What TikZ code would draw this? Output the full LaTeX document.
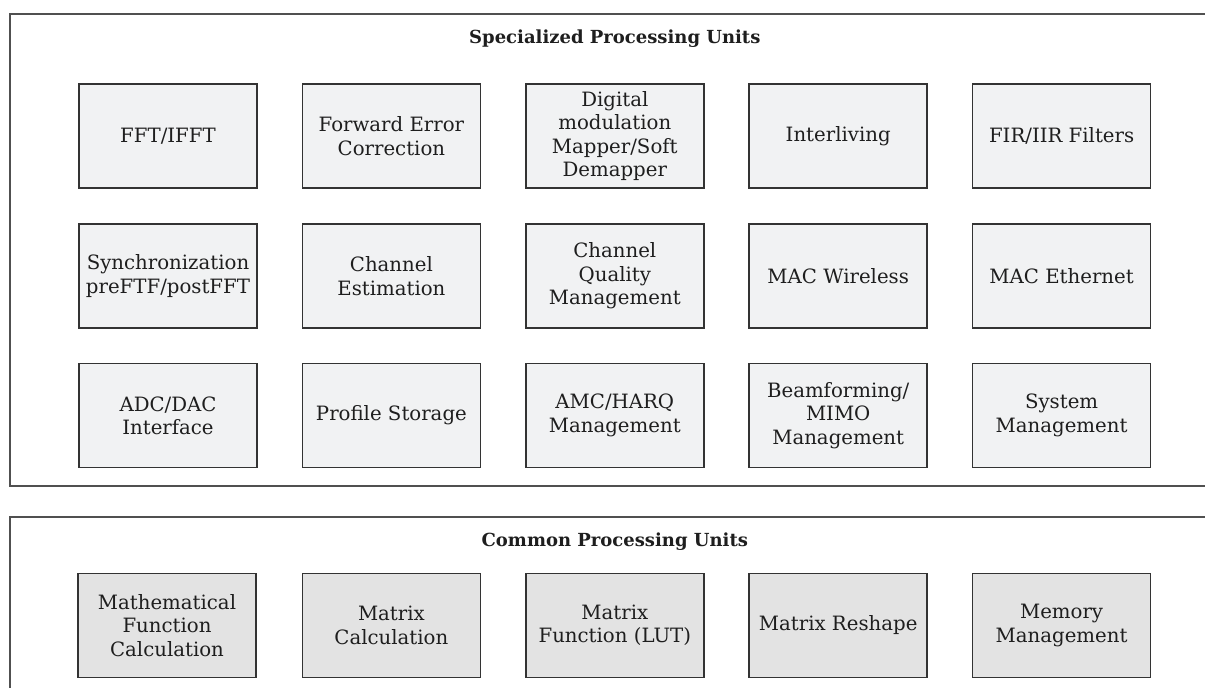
\documentclass[tikz,border=0pt]{standalone}
\usepackage{fontspec}
\setmainfont{DejaVu Serif}
\definecolor{outerline}{HTML}{505050}
\definecolor{boxline}{HTML}{333333}
\definecolor{specfill}{HTML}{F1F2F3}
\definecolor{commfill}{HTML}{E3E3E3}
\definecolor{txt}{HTML}{1E1E1E}
\tikzset{
  unit/.style={draw=boxline, line width=1.1pt, minimum width=133.5pt, minimum height=78pt,
    align=center, inner sep=1pt, font=\fontsize{14.8}{17.5}\selectfont, text=txt},
  specunit/.style={unit, fill=specfill},
  communit/.style={unit, fill=commfill},
  frame/.style={draw=outerline, line width=1.4pt},
  title/.style={font=\fontsize{13.5}{17.5}\selectfont\bfseries, text=txt}
}
\begin{document}
\begin{tikzpicture}[x=0.75pt,y=-0.75pt]
\useasboundingbox (0,0) rectangle (1205,688);
\clip (0,0) rectangle (1205,688);
\fill[white] (0,0) rectangle (1205,688);
% frames
\draw[frame] (10,14) rectangle (1230,486);
\draw[frame] (10,517) rectangle (1230,710);
\node[title] (spec) at (614.8,39) {Specialized Processing Units};
\node[title] (comm) at (614.8,542) {Common Processing Units};
% row 1
\node[specunit] (fft) at (168,136) {FFT/IFFT};
\node[specunit] (fec) at (391.4,136) {Forward Error\\Correction};
\node[specunit] (dmod) at (614.8,136) {Digital\\modulation\\Mapper/Soft\\Demapper};
\node[specunit] (intl) at (838.2,136) {Interliving};
\node[specunit] (fir) at (1061.6,136) {FIR/IIR Filters};
% row 2
\node[specunit] (sync) at (168,276) {Synchronization\\preFTF/postFFT};
\node[specunit] (chest) at (391.4,276) {Channel\\Estimation};
\node[specunit] (cqm) at (614.8,276) {Channel\\Quality\\Management};
\node[specunit] (macw) at (838.2,276) {MAC Wireless};
\node[specunit] (mace) at (1061.6,276) {MAC Ethernet};
% row 3
\node[specunit] (adc) at (168,415.5) {ADC/DAC\\Interface};
\node[specunit] (prof) at (391.4,415.5) {Profile Storage};
\node[specunit] (amc) at (614.8,415.5) {AMC/HARQ\\Management};
\node[specunit] (beam) at (838.2,415.5) {Beamforming/\\MIMO\\Management};
\node[specunit] (sysm) at (1061.6,415.5) {System\\Management};
% common row
\node[communit] (math) at (167,625.5) {Mathematical\\Function\\Calculation};
\node[communit] (mcalc) at (391.4,625.5) {Matrix\\Calculation};
\node[communit] (mlut) at (614.8,625.5) {Matrix\\Function (LUT)};
\node[communit] (mresh) at (838.2,625.5) {Matrix Reshape};
\node[communit] (mem) at (1061.6,625.5) {Memory\\Management};
\end{tikzpicture}
\end{document}
